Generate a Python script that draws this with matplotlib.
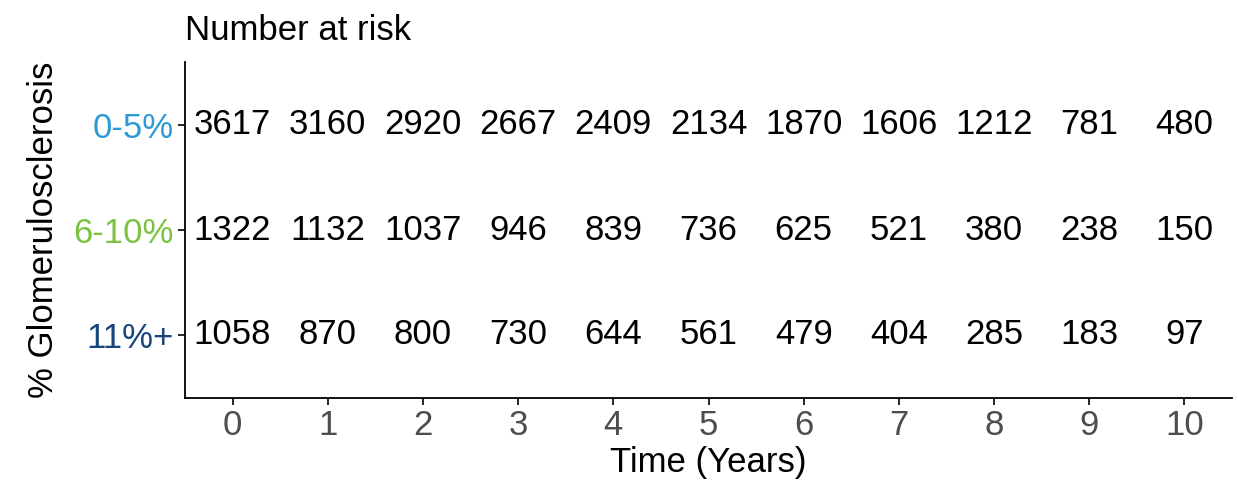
import matplotlib
matplotlib.use("Agg")
import matplotlib.pyplot as plt

groups = ["0-5%", "6-10%", "11%+"]
group_colors = ["#2b9ad6", "#7cc242", "#17467a"]
times = [0, 1, 2, 3, 4, 5, 6, 7, 8, 9, 10]
risk_0_5 = [3617, 3160, 2920, 2667, 2409, 2134, 1870, 1606, 1212, 781, 480]
risk_6_10 = [1322, 1132, 1037, 946, 839, 736, 625, 521, 380, 238, 150]
risk_11 = [1058, 870, 800, 730, 644, 561, 479, 404, 285, 183, 97]

plt.rcParams['font.family'] = ['Liberation Sans', 'DejaVu Sans']
FS = 25

fig = plt.figure(figsize=(12.38, 4.87), dpi=100)
ax = fig.add_axes([185/1238, 1 - 398/487, (1232-185)/1238, (398-62)/487])

ypos = [3, 2, 1]
for y, vals in zip(ypos, [risk_0_5, risk_6_10, risk_11]):
    for t, v in zip(times, vals):
        ax.text(t, y, str(v), ha='center', va='center', fontsize=FS, color='black')

ax.set_xlim(-0.5, 10.5)
ax.set_ylim(0.4, 3.6)
ax.set_xticks(times)
ax.set_xticklabels([str(t) for t in times])
ax.set_yticks(ypos)
ax.set_yticklabels(groups)
for lab, c in zip(ax.get_yticklabels(), group_colors):
    lab.set_color(c)
ax.tick_params(axis='both', labelsize=FS, length=5, width=1.2, pad=3)
ax.tick_params(axis='x', labelcolor='#4d4d4d')
for s in ['top', 'right']:
    ax.spines[s].set_visible(False)
for s in ['left', 'bottom']:
    ax.spines[s].set_linewidth(1.3)
ax.set_xlabel("Time (Years)", fontsize=FS, labelpad=3)
ax.set_ylabel("% Glomerulosclerosis", fontsize=FS, labelpad=10)
ax.set_title("Number at risk", loc='left', fontsize=FS, pad=16)

fig.savefig("out.png", dpi=100)
